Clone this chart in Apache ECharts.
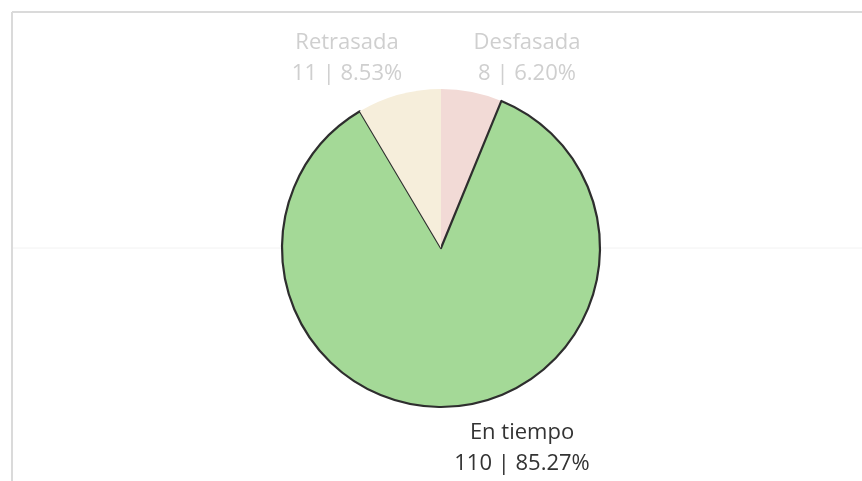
<!DOCTYPE html>
<html>
<head>
<meta charset="utf-8">
<script src="https://cdn.jsdelivr.net/npm/echarts@6/dist/echarts.min.js"></script>
<style>
html,body{margin:0;padding:0;background:#fff;}
#c{width:862px;height:481px;}
</style>
</head>
<body>
<div id="c"></div>
<script>
var categories = ['Desfasada', 'En tiempo', 'Retrasada'];
var counts = [8, 110, 11];
var percents = ['6.20%', '85.27%', '8.53%'];
var colors = ['#f2dad6', '#a4d997', '#f6eedb'];

var labelPos = {
  'Desfasada': [527, 58],
  'En tiempo': [522, 448],
  'Retrasada': [347, 58]
};
var labelColor = {
  'Desfasada': '#cfcfcf',
  'En tiempo': '#333333',
  'Retrasada': '#cfcfcf'
};

var data = categories.map(function (c, i) {
  return {
    name: c,
    value: counts[i],
    itemStyle: c === 'En tiempo'
      ? { color: colors[i], borderColor: '#2e2e2e', borderWidth: 2.2 }
      : { color: colors[i], borderWidth: 0 },
    label: { color: labelColor[c] }
  };
});

var chart = echarts.init(document.getElementById('c'), null, { renderer: 'canvas' });
chart.setOption({
  backgroundColor: '#ffffff',
  animation: false,
  graphic: [
    { type: 'line', shape: { x1: 12, y1: 248, x2: 862, y2: 248 }, style: { stroke: '#f2f2f2', lineWidth: 1 }, z: -10 },
    { type: 'line', shape: { x1: 12, y1: 12, x2: 862, y2: 12 }, style: { stroke: '#dadada', lineWidth: 2 }, z: -10 },
    { type: 'line', shape: { x1: 12, y1: 12, x2: 12, y2: 481 }, style: { stroke: '#dadada', lineWidth: 2 }, z: -10 }
  ],
  series: [{
    type: 'pie',
    center: [441, 248],
    radius: [0, 159],
    startAngle: 90,
    clockwise: true,
    data: data,
    label: {
      show: true,
      position: 'outside',
      fontFamily: 'Open Sans',
      fontSize: 22,
      lineHeight: 31,
      align: 'center',
      verticalAlign: 'middle',
      formatter: function (p) {
        return p.name + '\n' + p.value + ' | ' + percents[p.dataIndex];
      }
    },
    labelLine: { show: false },
    labelLayout: function (p) {
      var pos = labelPos[categories[p.dataIndex]];
      return { x: pos[0], y: pos[1], align: 'center', verticalAlign: 'middle' };
    },
    emphasis: { disabled: true }
  }]
});
</script>
</body>
</html>
